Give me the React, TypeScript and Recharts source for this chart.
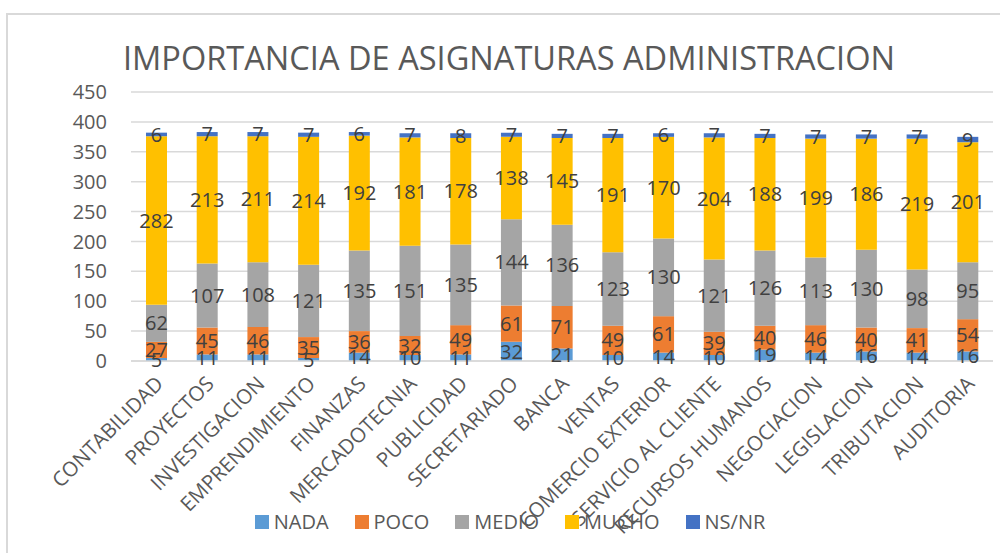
import React from 'react';
import { BarChart, Bar, XAxis, YAxis, CartesianGrid, Legend, LabelList } from 'recharts';

const CATEGORIES = [
  'CONTABILIDAD', 'PROYECTOS', 'INVESTIGACION', 'EMPRENDIMIENTO', 'FINANZAS',
  'MERCADOTECNIA', 'PUBLICIDAD', 'SECRETARIADO', 'BANCA', 'VENTAS',
  'COMERCIO EXTERIOR', 'SERVICIO AL CLIENTE', 'RECURSOS HUMANOS', 'NEGOCIACION',
  'LEGISLACION', 'TRIBUTACION', 'AUDITORIA',
];
const NADA = [5, 11, 11, 5, 14, 10, 11, 32, 21, 10, 14, 10, 19, 14, 16, 14, 16];
const POCO = [27, 45, 46, 35, 36, 32, 49, 61, 71, 49, 61, 39, 40, 46, 40, 41, 54];
const MEDIO = [62, 107, 108, 121, 135, 151, 135, 144, 136, 123, 130, 121, 126, 113, 130, 98, 95];
const MUCHO = [282, 213, 211, 214, 192, 181, 178, 138, 145, 191, 170, 204, 188, 199, 186, 219, 201];
const NSNR = [6, 7, 7, 7, 6, 7, 8, 7, 7, 7, 6, 7, 7, 7, 7, 7, 9];
const Y_TICKS = [0, 50, 100, 150, 200, 250, 300, 350, 400, 450];

const TITLE = 'IMPORTANCIA DE ASIGNATURAS ADMINISTRACION';
const FONT = '"Open Sans", sans-serif';

const SERIES = [
  { key: 'NADA', color: '#5B9BD5' },
  { key: 'POCO', color: '#ED7D31' },
  { key: 'MEDIO', color: '#A5A5A5' },
  { key: 'MUCHO', color: '#FFC000' },
  { key: 'NS/NR', color: '#4472C4' },
];

const data = CATEGORIES.map((name, i) => ({
  name,
  NADA: NADA[i],
  POCO: POCO[i],
  MEDIO: MEDIO[i],
  MUCHO: MUCHO[i],
  'NS/NR': NSNR[i],
}));

const CategoryTick = (props: any) => {
  const { x, y, payload } = props;
  return (
    <g transform={`translate(${x + 3},${y + 19}) rotate(-45)`}>
      <text textAnchor="end" dy="0.35em" fill="#595959" fontSize={20.5} fontFamily={FONT}>
        {payload.value}
      </text>
    </g>
  );
};

// legend items kept in series order
const renderLegend = () => (
  <div
    style={{
      display: 'flex',
      justifyContent: 'center',
      gap: 26,
      paddingLeft: 20,
      fontFamily: FONT,
      fontSize: 20,
      color: '#595959',
    }}
  >
    {SERIES.map((s) => (
      <span key={s.key} style={{ display: 'flex', alignItems: 'center' }}>
        <span style={{ width: 14, height: 14, background: s.color, display: 'inline-block', marginRight: 5 }} />
        {s.key}
      </span>
    ))}
  </div>
);

export default function App() {
  return (
    <div
      style={{
        position: 'absolute',
        left: 0,
        top: 0,
        width: 1000,
        height: 553,
        overflow: 'hidden',
        background: '#fff',
      }}
    >
      <div
        style={{
          position: 'absolute',
          left: 6,
          top: 13,
          width: 1100,
          height: 700,
          border: '2px solid #d9d9d9',
        }}
      />
      <svg style={{ position: 'absolute', left: 0, top: 0 }} width={1000} height={100}>
        <text
          x={509}
          y={70}
          textAnchor="middle"
          fontFamily={FONT}
          fontSize={32}
          fill="#595959"
          textLength={772}
          lengthAdjust="spacingAndGlyphs"
        >
          {TITLE}
        </text>
      </svg>
      <div style={{ position: 'absolute', left: 0, top: 0 }}>
        <BarChart width={1000} height={553} data={data} margin={{ top: 92, right: 7, bottom: 0, left: 71 }}>
          <CartesianGrid vertical={false} stroke="#d9d9d9" strokeWidth={1.5} />
          <XAxis
            dataKey="name"
            interval={0}
            height={192}
            tickLine={false}
            tickSize={0}
            tickMargin={0}
            axisLine={{ stroke: '#d9d9d9', strokeWidth: 1.5 }}
            tick={<CategoryTick />}
          />
          <YAxis
            width={60}
            domain={[0, 450]}
            ticks={Y_TICKS}
            axisLine={false}
            tickLine={false}
            tickSize={0}
            tickMargin={24}
            tick={{ fill: '#595959', fontSize: 20, fontFamily: FONT }}
          />
          <Legend
            layout="horizontal"
            verticalAlign="middle"
            align="center"
            wrapperStyle={{ top: 508, left: 0, width: 1000 }}
            content={renderLegend}
          />
          {SERIES.map((s) => (
            <Bar key={s.key} dataKey={s.key} stackId="a" fill={s.color} barSize={21} isAnimationActive={false}>
              <LabelList
                dataKey={s.key}
                position="center"
                fill="#404040"
                fontSize={20}
                fontFamily={FONT}
              />
            </Bar>
          ))}
        </BarChart>
      </div>
    </div>
  );
}
